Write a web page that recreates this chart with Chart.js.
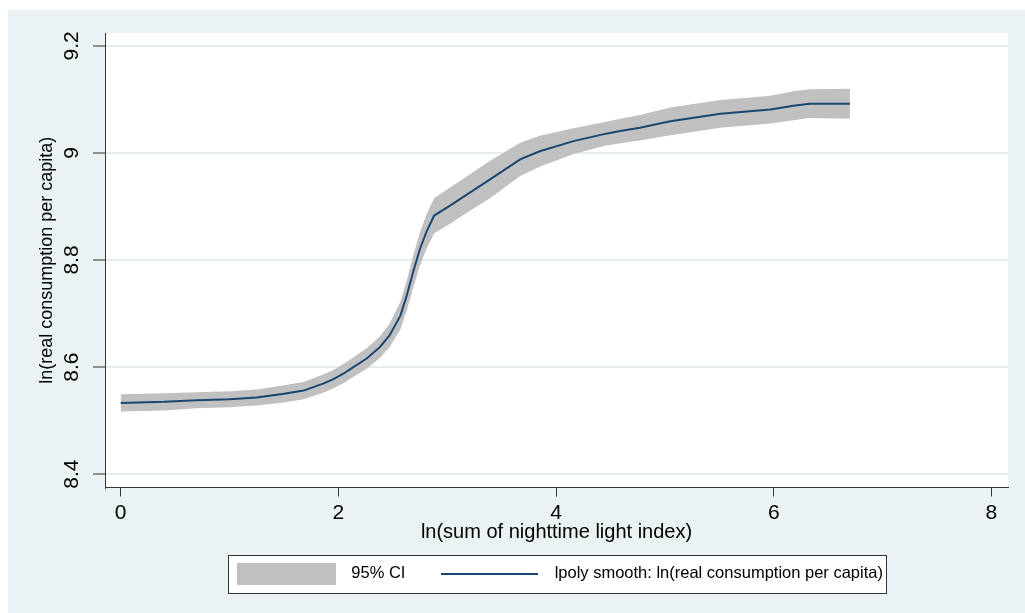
<!DOCTYPE html>
<html>
<head>
<meta charset="utf-8">
<script src="https://cdn.jsdelivr.net/npm/chart.js@4.4.1/dist/chart.umd.min.js"></script>
<style>
html,body{margin:0;padding:0;background:#fff;}
canvas{display:block;}
</style>
</head>
<body>
<canvas id="c" width="1025" height="613"></canvas>
<script>
// ---- data ----
const xValues   = [0, 0.4, 0.7, 1.0, 1.25, 1.5, 1.68, 1.86, 1.95, 2.05, 2.11, 2.26, 2.38, 2.47, 2.57, 2.63, 2.69, 2.75, 2.81, 2.88, 3.03, 3.18, 3.39, 3.67, 3.85, 4.16, 4.46, 4.59, 4.77, 5.05, 5.51, 5.97, 6.18, 6.33, 6.70];
const fitValues = [8.533, 8.535, 8.538, 8.540, 8.543, 8.550, 8.556, 8.569, 8.577, 8.588, 8.596, 8.616, 8.637, 8.659, 8.696, 8.735, 8.780, 8.821, 8.853, 8.883, 8.902, 8.922, 8.950, 8.988, 9.003, 9.022, 9.036, 9.041, 9.047, 9.059, 9.073, 9.081, 9.088, 9.092, 9.092];
const ciLower   = [8.517, 8.519, 8.523, 8.525, 8.528, 8.534, 8.540, 8.552, 8.560, 8.570, 8.578, 8.597, 8.617, 8.637, 8.670, 8.707, 8.750, 8.790, 8.821, 8.850, 8.868, 8.888, 8.915, 8.957, 8.974, 8.998, 9.014, 9.018, 9.023, 9.033, 9.047, 9.055, 9.061, 9.065, 9.064];
const ciUpper   = [8.549, 8.551, 8.553, 8.555, 8.558, 8.566, 8.572, 8.586, 8.594, 8.606, 8.614, 8.635, 8.657, 8.681, 8.722, 8.763, 8.810, 8.852, 8.885, 8.916, 8.936, 8.956, 8.985, 9.019, 9.032, 9.046, 9.058, 9.064, 9.071, 9.085, 9.099, 9.107, 9.115, 9.119, 9.120];

const yTickValues = [8.4, 8.6, 8.8, 9, 9.2];
const yTickLabels = ['8.4', '8.6', '8.8', '9', '9.2'];
const xTickValues = [0, 2, 4, 6, 8];
const xTickLabels = ['0', '2', '4', '6', '8'];
const legendLabels = ['95% CI', 'lpoly smooth: ln(real consumption per capita)'];
const xTitle = 'ln(sum of nighttime light index)';
const yTitle = 'ln(real consumption per capita)';

// ---- styling ----
const FONT = "'Liberation Sans', Arial, sans-serif";
const LINE_COLOR = '#1A476F';
const CI_COLOR = '#C0C0C0';
const PANEL = '#EAF2F3';
const GRID = '#E3ECEF';
const AXIS = '#333333';

Chart.defaults.font.family = FONT;
Chart.defaults.color = '#000';

function swatch(w, h, color) {
  const c = document.createElement('canvas');
  c.width = w; c.height = h;
  const g = c.getContext('2d');
  g.fillStyle = color; g.fillRect(0, 0, w, h);
  return c;
}
const ciSwatch = swatch(99, 22, CI_COLOR);
const lineSwatch = swatch(97, 2, LINE_COLOR);

const toPts = arr => xValues.map((x, i) => ({x: x, y: arr[i]}));

const bgPlugin = {
  id: 'stataBackground',
  beforeDraw(chart) {
    const {ctx, chartArea: a, width, height} = chart;
    ctx.save();
    ctx.fillStyle = '#fff';
    ctx.fillRect(0, 0, width, height);
    ctx.fillStyle = PANEL;
    ctx.fillRect(8, 10, width - 8, height - 10);
    ctx.fillStyle = '#fff';
    ctx.fillRect(a.left, a.top, a.right - a.left, a.bottom - a.top);
    const lg = chart.legend;
    if (lg && lg.lineWidths && lg.lineWidths.length) {
      const p = lg.options.labels.padding;
      const x0 = (lg.left + p + lg.right - lg.lineWidths[0]) / 2;
      const w = lg.lineWidths[0] - p;
      const cy = lg.top + p + 8;
      const L = Math.round(x0 - 2) + 0.5;
      const R = Math.round(x0 + w + 3) + 0.5;
      const T = Math.round(cy - 19) + 0.5;
      const B = Math.round(cy + 19) + 0.5;
      ctx.fillStyle = '#fff';
      ctx.fillRect(L, T, R - L, B - T);
      ctx.strokeStyle = AXIS;
      ctx.lineWidth = 1;
      ctx.strokeRect(L, T, R - L, B - T);
    }
    ctx.restore();
  }
};

new Chart(document.getElementById('c'), {
  type: 'line',
  data: {
    datasets: [
      {
        label: legendLabels[1],
        data: toPts(fitValues),
        borderColor: LINE_COLOR,
        borderWidth: 2,
        pointRadius: 0,
        tension: 0,
        fill: false
      },
      {
        label: 'ci-lower',
        data: toPts(ciLower),
        borderWidth: 0,
        borderColor: 'rgba(0,0,0,0)',
        pointRadius: 0,
        tension: 0,
        fill: false
      },
      {
        label: legendLabels[0],
        data: toPts(ciUpper),
        borderWidth: 0,
        borderColor: 'rgba(0,0,0,0)',
        backgroundColor: CI_COLOR,
        pointRadius: 0,
        tension: 0,
        fill: '-1'
      }
    ]
  },
  options: {
    responsive: false,
    animation: false,
    devicePixelRatio: 1,
    events: [],
    layout: { padding: { left: 0, top: 33, right: 17, bottom: 21 } },
    scales: {
      x: {
        type: 'linear',
        min: -0.144,
        max: 8.152,
        afterBuildTicks: s => { s.ticks = xTickValues.map(v => ({value: v})); },
        afterFit: s => { s.height = 50; },
        ticks: {
          padding: 4,
          autoSkip: false,
          maxRotation: 0,
          font: { size: 21 },
          color: '#000',
          callback: (v, i) => xTickLabels[i]
        },
        grid: {
          display: true,
          drawOnChartArea: false,
          drawTicks: true,
          tickLength: 9,
          tickColor: AXIS,
          tickWidth: 1
        },
        border: { display: true, color: AXIS, width: 1 },
        title: {
          display: true,
          text: xTitle,
          color: '#000',
          font: { size: 20 },
          padding: { top: 0, bottom: -7 }
        }
      },
      y: {
        type: 'linear',
        min: 8.375,
        max: 9.224,
        afterBuildTicks: s => { s.ticks = yTickValues.map(v => ({value: v})); },
        afterFit: s => { s.width = 105; },
        ticks: {
          padding: 6,
          autoSkip: false,
          minRotation: 90,
          maxRotation: 90,
          crossAlign: 'center',
          font: { size: 21 },
          color: '#000',
          callback: (v, i) => yTickLabels[i]
        },
        grid: {
          display: true,
          drawOnChartArea: true,
          color: GRID,
          lineWidth: 2,
          drawTicks: true,
          tickLength: 12,
          tickColor: AXIS,
          tickWidth: 1
        },
        border: { display: true, color: AXIS, width: 1 },
        title: {
          display: true,
          text: yTitle,
          color: '#000',
          font: { size: 18 },
          padding: { top: 36, bottom: 0 }
        }
      }
    },
    plugins: {
      tooltip: { enabled: false },
      legend: {
        display: true,
        position: 'bottom',
        fullSize: false,
        align: 'center',
        labels: {
          usePointStyle: true,
          pointStyleWidth: 113,
          padding: 28,
          color: '#000',
          font: { size: 16.5 },
          generateLabels: () => [
            { text: legendLabels[0], pointStyle: ciSwatch, fillStyle: CI_COLOR, strokeStyle: CI_COLOR, lineWidth: 0, hidden: false, datasetIndex: 2, fontColor: '#000' },
            { text: legendLabels[1], pointStyle: lineSwatch, fillStyle: LINE_COLOR, strokeStyle: LINE_COLOR, lineWidth: 0, hidden: false, datasetIndex: 0, fontColor: '#000' }
          ]
        }
      }
    }
  },
  plugins: [bgPlugin]
});
</script>
</body>
</html>
